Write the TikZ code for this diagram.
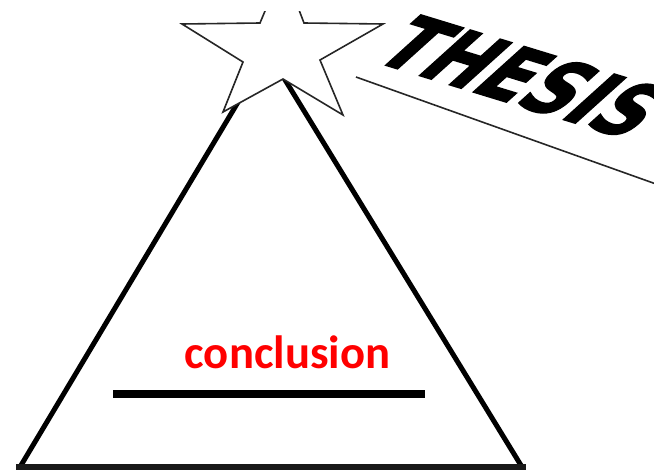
\documentclass[tikz,border=0pt]{standalone}
\usepackage{fontspec}
\newfontfamily\labelfont{Carlito}
\newfontfamily\thesisfont{DejaVu Sans}[BoldFeatures={FakeBold=2}]
\usetikzlibrary{positioning}

\begin{document}
\begin{tikzpicture}[x=0.75pt, y=-0.75pt]
    \tikzset{
        tri side/.style={line width=3.75pt, line join=miter, black},
        star line/.style={line width=1.2pt, line join=miter, draw=black!85, fill=white},
        red label/.style={font=\labelfont\bfseries\fontsize{35}{40}\selectfont, text=red, anchor=base, inner sep=0pt},
        big word/.style={font=\thesisfont\bfseries\fontsize{60}{66}\selectfont, text=black, inner sep=0pt,
                rotate=-17, xslant=0.6, xscale=0.84, transform shape}
    }
    \useasboundingbox (0,0) rectangle (654,475);
    \clip (0,0) rectangle (654,475);

    % Pyramid
    \coordinate (apex) at (268,52);
    \coordinate (baseL) at (20,467);
    \coordinate (baseR) at (522,467);
    \draw[tri side] (baseL) -- (apex) -- (baseR);
    \draw[line width=5pt, black!90] ([xshift=-3]baseL) -- ([xshift=3]baseR);

    % Star on top (its top tip is cut off)
    \begin{scope}
        \clip (0,11) rectangle (654,475);
        \draw[star line] (283,-32) -- (304,23) -- (383,24) -- (320,60) -- (343,115) -- (283,79)
            -- (223,112) -- (243,62) -- (182,24) -- (260,23) -- cycle;
    \end{scope}

    % Thesis label
    \node[big word] (thesis) at (524,77) {THESIS};
    \coordinate (lineA) at (356,77);
    \coordinate (lineB) at (656,184);
    \draw[line width=1.2pt, black!85] (lineA) -- (lineB);

    % Conclusion
    \node[red label] (concl) at (287.5,368) {conclusion};
    \coordinate (barL) at (113,394);
    \coordinate (barR) at (425,394);
    \draw[line width=6pt] (barL) -- (barR);
\end{tikzpicture}
\end{document}
